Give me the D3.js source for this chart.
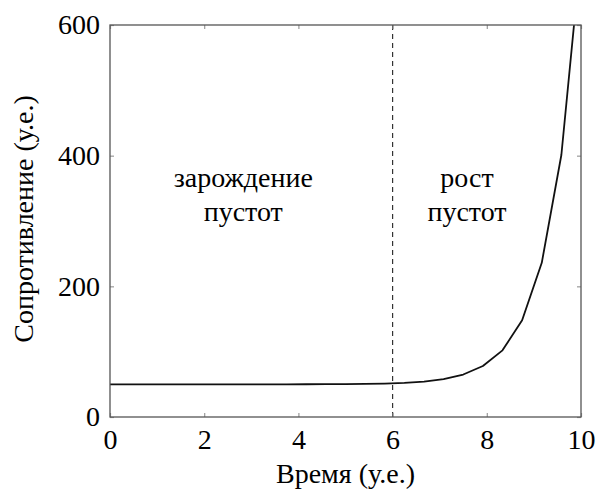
<!DOCTYPE html>
<html>
<head>
<meta charset="utf-8">
<script src="https://cdn.jsdelivr.net/npm/d3@7"></script>
<style>
  body { margin: 0; background: #fff; }
</style>
</head>
<body>
<svg id="chart"></svg>
<script>
// curve samples
var times = [0, 0.417, 0.833, 1.25, 1.667, 2.083, 2.5, 2.917, 3.333, 3.75, 4.167, 4.583, 5,
             5.417, 5.833, 6.25, 6.667, 7.083, 7.5, 7.917, 8.333, 8.75, 9.167, 9.583, 10];
var resistance = [50, 50, 50, 50, 50, 50, 50, 50, 50, 50, 50.1, 50.2, 50.3,
                  50.6, 51.2, 52.2, 54.2, 57.9, 65, 78, 102, 148, 236, 401, 710];
var xTicks = [0, 2, 4, 6, 8, 10];
var yTicks = [0, 200, 400, 600];
var boundaryTime = 6;
var regionLabels = [["зарождение", "пустот"], ["рост", "пустот"]];
var regionCentres = [2.83, 7.58];

var fontName = "Liberation Serif";
var fontSize = 28;

var svgWidth = 597, svgHeight = 491;
var margin = { top: 25, right: 16, bottom: 74, left: 110 };
var width = svgWidth - margin.left - margin.right;
var height = svgHeight - margin.top - margin.bottom;

var svg = d3.select("#chart")
    .attr("width", svgWidth)
    .attr("height", svgHeight)
    .attr("font-family", fontName);

var g = svg.append("g")
    .attr("transform", "translate(" + margin.left + "," + margin.top + ")");

var x = d3.scaleLinear().domain([0, 10]).range([0, width]);
var y = d3.scaleLinear().domain([0, 600]).range([height, 0]);

var data = times.map(function(t, i) { return { t: t, v: resistance[i] }; });

g.append("clipPath").attr("id", "clip")
  .append("rect").attr("width", width).attr("height", height);

// dashed boundary
g.append("line")
    .attr("x1", x(boundaryTime)).attr("x2", x(boundaryTime))
    .attr("y1", 0).attr("y2", height)
    .attr("stroke", "#333")
    .attr("stroke-width", 1.2)
    .attr("stroke-dasharray", "5,4");

var line = d3.line()
    .x(function(d) { return x(d.t); })
    .y(function(d) { return y(d.v); });

g.append("path")
    .datum(data)
    .attr("clip-path", "url(#clip)")
    .attr("fill", "none")
    .attr("stroke", "#111")
    .attr("stroke-width", 1.8)
    .attr("stroke-linejoin", "round")
    .attr("d", line);

// axes with inner ticks on all sides
function styleAxis(sel) {
  sel.attr("font-family", fontName).attr("font-size", fontSize);
  sel.select(".domain").remove();
  sel.selectAll(".tick line").attr("stroke", "#999").attr("stroke-width", 1.2);
  sel.selectAll(".tick text").attr("fill", "#000");
}

g.append("g")
    .attr("transform", "translate(0," + height + ")")
    .call(d3.axisBottom(x).tickValues(xTicks).tickSize(-4))
    .call(styleAxis)
    .selectAll(".tick text").attr("dy", 0).attr("y", 32);

g.append("g")
    .call(d3.axisTop(x).tickValues(xTicks).tickSize(-4).tickFormat(""))
    .call(styleAxis);

g.append("g")
    .call(d3.axisLeft(y).tickValues(yTicks).tickSize(-4).tickPadding(10))
    .call(styleAxis);

g.append("g")
    .attr("transform", "translate(" + width + ",0)")
    .call(d3.axisRight(y).tickValues(yTicks).tickSize(-4).tickFormat(""))
    .call(styleAxis);

g.append("rect")
    .attr("width", width).attr("height", height)
    .attr("fill", "none")
    .attr("stroke", "#555")
    .attr("stroke-width", 1.3);

// region labels
regionLabels.forEach(function(lines, i) {
  var t = g.append("text")
      .attr("text-anchor", "middle")
      .attr("x", x(regionCentres[i]))
      .attr("y", y(352))
      .attr("font-size", fontSize);
  lines.forEach(function(s, j) {
    t.append("tspan").attr("x", x(regionCentres[i])).attr("dy", j ? 34 : 0).text(s);
  });
});

// axis titles
g.append("text")
    .attr("text-anchor", "middle")
    .attr("x", width / 2)
    .attr("y", height + 66)
    .attr("font-size", fontSize)
    .text("Время (у.е.)");

g.append("text")
    .attr("text-anchor", "middle")
    .attr("transform", "rotate(-90)")
    .attr("x", -height / 2 + 2)
    .attr("y", -77)
    .attr("font-size", fontSize)
    .text("Сопротивление (у.е.)");
</script>
</body>
</html>
